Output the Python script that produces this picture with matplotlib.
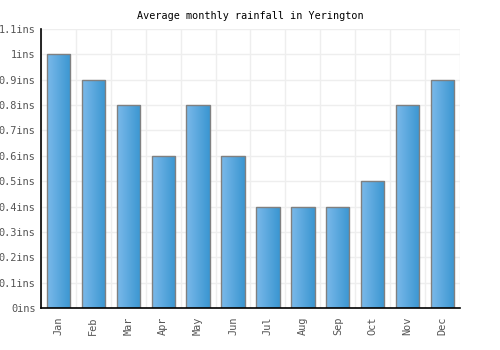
import matplotlib
matplotlib.use("Agg")
import matplotlib.pyplot as plt
import numpy as np
from matplotlib.colors import LinearSegmentedColormap

months = ["Jan", "Feb", "Mar", "Apr", "May", "Jun", "Jul", "Aug", "Sep", "Oct", "Nov", "Dec"]
rainfall = [1.0, 0.9, 0.8, 0.6, 0.8, 0.6, 0.4, 0.4, 0.4, 0.5, 0.8, 0.9]
yticks = [0, 0.1, 0.2, 0.3, 0.4, 0.5, 0.6, 0.7, 0.8, 0.9, 1.0, 1.1]
ytick_labels = ["0ins", "0.1ins", "0.2ins", "0.3ins", "0.4ins", "0.5ins", "0.6ins",
                "0.7ins", "0.8ins", "0.9ins", "1ins", "1.1ins"]
title = "Average monthly rainfall in Yerington"

fig = plt.figure(figsize=(5, 3.5), dpi=100)
ax = fig.add_axes([0.082, 0.12, 0.838, 0.797])

x = np.arange(len(months))
bars = ax.bar(x, rainfall, width=0.67, color="none", edgecolor="#808080", linewidth=1.0, zorder=3)

cmap = LinearSegmentedColormap.from_list("g", ["#7bb9ea", "#3a96d1"])
grad = np.linspace(0, 1, 64).reshape(1, -1)
for b in bars:
    x0, y0 = b.get_x(), b.get_y()
    w, h = b.get_width(), b.get_height()
    im = ax.imshow(grad, cmap=cmap, aspect="auto", extent=[x0, x0 + w, y0, y0 + h],
                   zorder=2, interpolation="bicubic")
    im.set_clip_path(b)

ax.set_xlim(-0.5, len(months) - 0.5)
ax.set_ylim(0, 1.1)
ax.set_xticks(x)
ax.set_xticklabels(months, rotation=90, family="DejaVu Sans Mono", fontsize=7.4, color="#555555")
ax.set_yticks(yticks)
ax.set_yticklabels(ytick_labels, family="DejaVu Sans Mono", fontsize=7.4, color="#555555")
ax.set_xticks(np.arange(len(months) + 1) - 0.5, minor=True)
ax.tick_params(axis="both", which="both", length=0)
ax.tick_params(axis="y", pad=4)
ax.tick_params(axis="x", pad=6)

ax.grid(axis="y", which="major", color="#eeeeee", linewidth=1, zorder=0)
ax.grid(axis="x", which="minor", color="#eeeeee", linewidth=1, zorder=0)
ax.grid(axis="x", which="major", visible=False)

for s in ["top", "right"]:
    ax.spines[s].set_visible(False)
for s in ["left", "bottom"]:
    ax.spines[s].set_color("black")
    ax.spines[s].set_linewidth(1.2)
    ax.spines[s].set_zorder(4)

fig.text(0.5, 0.955, title, ha="center", va="center", family="DejaVu Sans Mono", fontsize=7.3, color="black")

fig.savefig("out.png", dpi=100)
